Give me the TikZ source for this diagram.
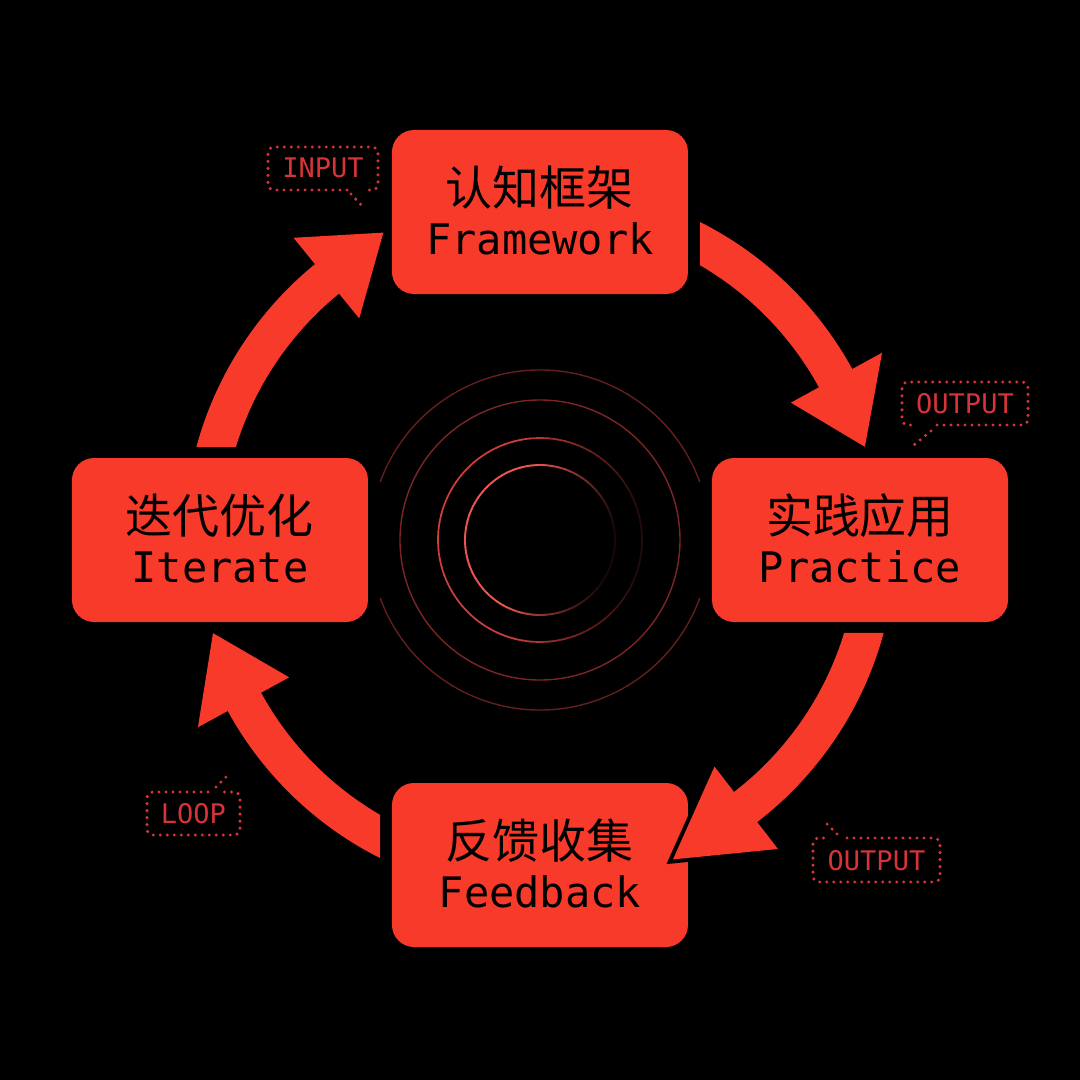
\documentclass[tikz,border=0pt]{standalone}
\usepackage{fontspec}
\newfontfamily\cjk{Noto Sans CJK SC}
\newfontfamily\mono{DejaVu Sans Mono}
\usetikzlibrary{calc}
\definecolor{ared}{RGB}{248,58,42}
\definecolor{lred}{RGB}{214,52,56}
\definecolor{ringA}{RGB}{100,30,30}
\definecolor{ringB}{RGB}{125,36,36}
\definecolor{ringC}{RGB}{205,62,60}
\definecolor{ringD}{RGB}{235,85,80}
\begin{document}
\begin{tikzpicture}[x=1pt,y=1pt,
  box/.style={fill=ared, rounded corners=22pt, minimum width=296pt, minimum height=164pt, inner sep=0pt},
  zh/.style={anchor=base, inner sep=0pt, font=\cjk\fontsize{47}{50}\selectfont, text=black},
  en/.style={anchor=base, inner sep=0pt, font=\mono\fontsize{42}{46}\selectfont, text=black},
  arrowsh/.style={fill=ared, preaction={draw=black, line width=8pt, line join=miter}},
  dotline/.style={draw=lred, line width=3.4pt, line cap=round, dash pattern=on 0pt off 7pt},
  lbl/.style={inner sep=0pt, font=\mono\fontsize{27}{30}\selectfont, text=lred}]
\fill[black] (-540,-540) rectangle (540,540);
\useasboundingbox (-540,-540) rectangle (540,540);
\coordinate (c) at (0,0);

% rings
\draw[ringA, line width=1.4pt] (20:170) arc[start angle=20, end angle=160, radius=170];
\draw[ringA, line width=1.4pt] (200:170) arc[start angle=200, end angle=340, radius=170];
\draw[ringB, line width=1.4pt] (c) circle[radius=140];
\foreach \a in {0,5,...,355} {
  \pgfmathtruncatemacro\p{min(100,max(18,85-70*cos(\a+5)))}
  \draw[draw=ringC!\p!black, line width=1.7pt] (\a:102) arc[start angle=\a, end angle=\a+5.6, radius=102];
  \pgfmathtruncatemacro\q{min(100,max(10,80-75*cos(\a+15)))}
  \draw[draw=ringD!\q!black, line width=1.9pt] (\a:75) arc[start angle=\a, end angle=\a+5.6, radius=75];
}

% boxes
\node[box] (fw) at (0,328) {};
\node[box] (pr) at (320,0) {};
\node[box] (fb) at (0,-325) {};
\node[box] (it) at (-320,0) {};

\node[zh] (fwzh) at ($(fw.center)+(0,6.5)$) {认知框架};
\node[en] (fwen) at ($(fw.center)+(0,-42)$) {Framework};
\node[zh] (przh) at ($(pr.center)+(0,6.5)$) {实践应用};
\node[en] (pren) at ($(pr.center)+(0,-42)$) {Practice};
\node[zh] (fbzh) at ($(fb.center)+(0,6.5)$) {反馈收集};
\node[en] (fben) at ($(fb.center)+(0,-42)$) {Feedback};
\node[zh] (itzh) at ($(it.center)+(0,6.5)$) {迭代优化};
\node[en] (iten) at ($(it.center)+(0,-42)$) {Iterate};

% arrows (clockwise ring around c)
\path[arrowsh] (164.86:356) arc[start angle=164.86, end angle=129.2, radius=356] -- (129.2:390) -- (117:345) -- (129.2:286) -- (129.2:318) arc[start angle=129.2, end angle=163.0, radius=318] -- cycle;
\path[arrowsh] (63.3:356) arc[start angle=63.3, end angle=28.7, radius=356] -- (28.7:390) -- (16:338) -- (28.7:286) -- (28.7:318) arc[start angle=28.7, end angle=59.8, radius=318] -- cycle;
\path[arrowsh] (-15.14:356) arc[start angle=-15.14, end angle=-52.4, radius=356] -- (-52.4:390) -- (-67.4:346) -- (-52.4:286) -- (-52.4:318) arc[start angle=-52.4, end angle=-17.0, radius=318] -- cycle;
\path[arrowsh] (243.3:356) arc[start angle=243.3, end angle=208.7, radius=356] -- (208.7:390) -- (195.9:340) -- (208.7:286) -- (208.7:318) arc[start angle=208.7, end angle=239.8, radius=318] -- cycle;

% dotted callouts
\draw[dotline, rounded corners=6pt] (-193,350) -- (-272,350) -- (-272,393) -- (-162,393) -- (-162,350) -- (-175,350);
\draw[dotline] (-189,346) -- (-175,331);
\node[lbl] (inp) at (-217,372) {INPUT};

\draw[dotline, rounded corners=6pt] (397,115) -- (488,115) -- (488,158) -- (362,158) -- (362,115) -- (377,115);
\draw[dotline] (391,109) -- (374,95);
\node[lbl] (out1) at (425,136) {OUTPUT};

\draw[dotline, rounded corners=6pt] (307,-298) -- (400,-298) -- (400,-342) -- (273,-342) -- (273,-298) -- (285,-298);
\draw[dotline] (297,-294) -- (284,-281);
\node[lbl] (out2) at (336.5,-321) {OUTPUT};

\draw[dotline, rounded corners=6pt] (-332,-252) -- (-393,-252) -- (-393,-295) -- (-300,-295) -- (-300,-252) -- (-318,-252);
\draw[dotline] (-324,-247) -- (-310,-233);
\node[lbl] (loop) at (-346.5,-274) {LOOP};
\end{tikzpicture}
\end{document}
